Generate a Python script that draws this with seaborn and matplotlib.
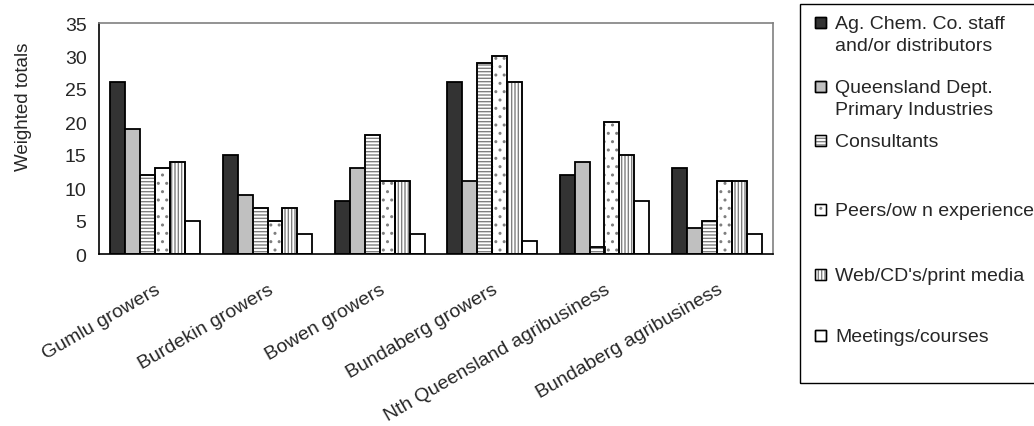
import pandas as pd
import matplotlib.pyplot as plt
import matplotlib.transforms as mtransforms
import seaborn as sns
from matplotlib.patches import Rectangle

# chart data
groups = ["Gumlu growers", "Burdekin growers", "Bowen growers", "Bundaberg growers",
          "Nth Queensland agribusiness", "Bundaberg agribusiness"]
sources = ["Ag. Chem. Co. staff\nand/or distributors", "Queensland Dept.\nPrimary Industries",
           "Consultants", "Peers/ow n experience", "Web/CD's/print media", "Meetings/courses"]
ag_chem = [26, 15, 8, 26, 12, 13]
qdpi = [19, 9, 13, 11, 14, 4]
consultants = [12, 7, 18, 29, 1, 5]
peers = [13, 5, 11, 30, 20, 11]
web_media = [14, 7, 11, 26, 15, 11]
meetings = [5, 3, 3, 2, 8, 3]
yticks = [0, 5, 10, 15, 20, 25, 30, 35]

series = [ag_chem, qdpi, consultants, peers, web_media, meetings]
rows = []
for src, vals in zip(sources, series):
    for g, v in zip(groups, vals):
        rows.append({"group": g, "source": src, "value": v})
df = pd.DataFrame(rows)

sns.set_style("white")
plt.rcParams["font.family"] = ["Liberation Sans", "DejaVu Sans"]

fills = ["#333333", "#c0c0c0", "white", "white", "white", "white"]
hatches = [None, None, "-----", "..", "|||||", None]
hatch_gray = "#7f7f7f"

W, H = 1034, 427
fig, ax = plt.subplots(figsize=(W / 100, H / 100), dpi=100)
fig.subplots_adjust(left=99 / W, right=773 / W, top=1 - 24 / H, bottom=1 - 255 / H)

sns.barplot(data=df, x="group", y="value", hue="source", hue_order=sources,
            palette=fills, saturation=1, width=0.8, legend=False, ax=ax,
            edgecolor="black", linewidth=1.3)

# hatched bars: gray hatch, then a black outline on top
for cont, h in zip(ax.containers, hatches):
    if h is None:
        continue
    for p in cont.patches:
        p.set_hatch(h)
        p.set_edgecolor(hatch_gray)
        ax.add_patch(Rectangle(p.get_xy(), p.get_width(), p.get_height(),
                               fill=False, edgecolor="black", linewidth=1.3, zorder=p.get_zorder() + 0.1))

ax.set_xlim(-0.5, len(groups) - 0.5)
ax.set_ylim(0, 35)
ax.set_yticks(yticks)
ax.set_xlabel("")
ax.set_ylabel("Weighted totals", fontsize=13.5)
ax.yaxis.set_label_coords(-0.1, 0.64)

ax.set_xticks(range(len(groups)))
ax.set_xticklabels(groups, rotation=30, ha="right", va="top", rotation_mode="anchor", fontsize=14)
shift = mtransforms.ScaledTranslation(-9 / 100, 0, fig.dpi_scale_trans)
for lbl in ax.get_xticklabels():
    lbl.set_transform(lbl.get_transform() + shift)
ax.set_xticks([i - 0.5 for i in range(len(groups) + 1)], minor=True)
ax.tick_params(axis="x", which="major", length=0, pad=19)
ax.tick_params(axis="x", which="minor", length=4, width=1, color="black", direction="out")
ax.tick_params(axis="y", length=4, width=1, color="black", direction="out", labelsize=14, pad=5)

for s in ["left", "bottom"]:
    ax.spines[s].set_color("black")
    ax.spines[s].set_linewidth(1.2)
for s in ["top", "right"]:
    ax.spines[s].set_color("#808080")
    ax.spines[s].set_linewidth(1.2)

# legend drawn by hand to match the uneven spacing of the original
fig.patches.append(Rectangle((800 / W, 1 - 384 / H), 260 / W, 379 / H, transform=fig.transFigure,
                             fill=False, edgecolor="black", linewidth=1.0))
entry_y = [23, 87, 141, 210, 275, 336]
for src, fc, h, yy in zip(sources, fills, hatches, entry_y):
    fig.patches.append(Rectangle((815 / W, 1 - (yy + 5.5) / H), 11 / W, 11 / H,
                                 transform=fig.transFigure, facecolor=fc,
                                 edgecolor=hatch_gray if h else "black", hatch=h, linewidth=1.0))
    fig.patches.append(Rectangle((815 / W, 1 - (yy + 5.5) / H), 11 / W, 11 / H,
                                 transform=fig.transFigure, fill=False,
                                 edgecolor="black", linewidth=1.0))
    fig.text(835 / W, 1 - (yy - 7) / H, src, fontsize=14, va="top", ha="left", linespacing=1.4)

fig.savefig("out.png", dpi=100)
